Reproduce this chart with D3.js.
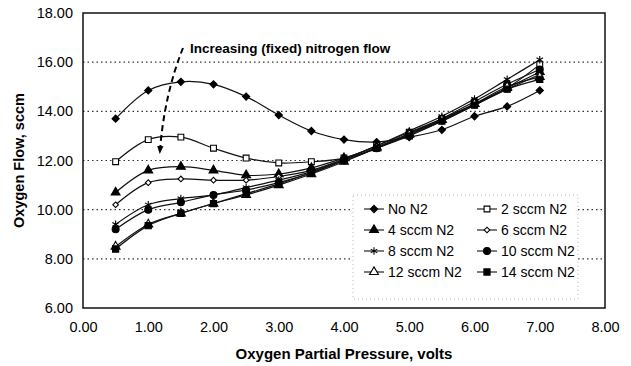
<!DOCTYPE html>
<html>
<head>
<meta charset="utf-8">
<script src="https://cdn.jsdelivr.net/npm/d3@7"></script>
<style>
  body { margin: 0; background: #fff; }
  svg { display: block; font-family: Arial, "Liberation Sans", sans-serif; }
</style>
</head>
<body>
<div id="chart"></div>
<script>
// ---------- Data ----------
const pressure = [0.5, 1.0, 1.5, 2.0, 2.5, 3.0, 3.5, 4.0, 4.5, 5.0, 5.5, 6.0, 6.5, 7.0];
const noN2   = [13.70, 14.85, 15.20, 15.10, 14.60, 13.85, 13.20, 12.85, 12.75, 12.95, 13.25, 13.80, 14.20, 14.85];
const sccm2  = [11.95, 12.85, 12.95, 12.50, 12.10, 11.90, 11.95, 12.10, 12.60, 13.15, 13.70, 14.30, 14.95, 15.90];
const sccm4  = [10.70, 11.60, 11.75, 11.60, 11.40, 11.45, 11.70, 12.10, 12.55, 13.10, 13.65, 14.30, 14.95, 15.60];
const sccm6  = [10.20, 11.10, 11.25, 11.20, 11.20, 11.35, 11.60, 12.05, 12.50, 13.05, 13.60, 14.25, 14.90, 15.50];
const sccm8  = [9.40, 10.20, 10.45, 10.60, 10.90, 11.20, 11.55, 12.05, 12.60, 13.20, 13.80, 14.50, 15.30, 16.10];
const sccm10 = [9.20, 10.00, 10.30, 10.60, 10.80, 11.10, 11.50, 12.00, 12.50, 13.10, 13.70, 14.40, 15.10, 15.70];
const sccm12 = [8.50, 9.40, 9.85, 10.25, 10.60, 11.00, 11.45, 11.95, 12.50, 13.05, 13.65, 14.30, 15.00, 15.40];
const sccm14 = [8.40, 9.35, 9.85, 10.25, 10.65, 11.05, 11.50, 12.00, 12.50, 13.00, 13.60, 14.25, 14.90, 15.30];

const seriesNames = ["No N2", "2 sccm N2", "4 sccm N2", "6 sccm N2", "8 sccm N2", "10 sccm N2", "12 sccm N2", "14 sccm N2"];
const seriesValues = [noN2, sccm2, sccm4, sccm6, sccm8, sccm10, sccm12, sccm14];
const xTicks = [0, 1, 2, 3, 4, 5, 6, 7, 8];
const yTicks = [6, 8, 10, 12, 14, 16, 18];

// marker style per series: symbol, fill, size, rotation
const markers = [
    { sym: d3.symbolSquare, fill: "#000", size: 26, rot: 45 },
    { sym: d3.symbolSquare, fill: "#fff", size: 34, rot: 0 },
    { sym: d3.symbolTriangle, fill: "#000", size: 34, rot: 0 },
    { sym: d3.symbolSquare, fill: "#fff", size: 16, rot: 45 },
    { sym: d3.symbolAsterisk, fill: "none", size: 40, rot: 0 },
    { sym: d3.symbolCircle, fill: "#000", size: 38, rot: 0 },
    { sym: d3.symbolTriangle, fill: "#fff", size: 34, rot: 0 },
    { sym: d3.symbolSquare, fill: "#000", size: 38, rot: 0 }
];

// ---------- Dimensions ----------
const W = 631, H = 366;
const plot = { left: 83, right: 605, top: 13, bottom: 308 };

const svg = d3.select("#chart").append("svg")
    .attr("width", W)
    .attr("height", H);

// ---------- Scales ----------
const x = d3.scaleLinear().domain([0, 8]).range([plot.left, plot.right]);
const y = d3.scaleLinear().domain([6, 18]).range([plot.bottom, plot.top]);

// ---------- Gridlines ----------
svg.append("g")
    .selectAll("line")
    .data(yTicks.filter(d => d > 6 && d < 18))
    .join("line")
    .attr("x1", plot.left).attr("x2", plot.right)
    .attr("y1", d => y(d)).attr("y2", d => y(d))
    .attr("stroke", "#333")
    .attr("stroke-width", 1.2)
    .attr("stroke-dasharray", "1.5,3");

// ---------- Axes ----------
const xAxis = svg.append("g")
    .attr("transform", `translate(0,${plot.bottom})`)
    .call(d3.axisBottom(x).tickValues(xTicks).tickSize(0).tickPadding(14).tickFormat(d3.format(".2f")));
const yAxis = svg.append("g")
    .attr("transform", `translate(${plot.left},0)`)
    .call(d3.axisLeft(y).tickValues(yTicks).tickSize(0).tickPadding(10).tickFormat(d3.format(".2f")));

[xAxis, yAxis].forEach(a => {
    a.select(".domain").remove();
    a.selectAll("text")
        .attr("fill", "#000")
        .style("font-size", "14.5px")
        .style("font-family", "Arial, 'Liberation Sans', sans-serif");
});

// plot frame
svg.append("rect")
    .attr("x", plot.left).attr("y", plot.top)
    .attr("width", plot.right - plot.left)
    .attr("height", plot.bottom - plot.top)
    .attr("fill", "none")
    .attr("stroke", "#111")
    .attr("stroke-width", 1.5);

// axis titles
svg.append("text")
    .attr("x", (plot.left + plot.right) / 2)
    .attr("y", 359)
    .attr("text-anchor", "middle")
    .style("font-size", "15px")
    .style("font-weight", "bold")
    .text("Oxygen Partial Pressure, volts");

svg.append("text")
    .attr("transform", `translate(24,${(plot.top + plot.bottom) / 2}) rotate(-90)`)
    .attr("text-anchor", "middle")
    .style("font-size", "14.5px")
    .style("font-weight", "bold")
    .text("Oxygen Flow, sccm");

// ---------- Lines ----------
const line = d3.line()
    .x((d, i) => x(pressure[i]))
    .y(d => y(d))
    .curve(d3.curveCatmullRom.alpha(0.5));

const symbol = m => d3.symbol().type(m.sym).size(m.size)();

seriesValues.forEach((vals, s) => {
    const g = svg.append("g");
    g.append("path")
        .attr("d", line(vals))
        .attr("fill", "none")
        .attr("stroke", "#111")
        .attr("stroke-width", 1.2);
    g.selectAll("path.pt")
        .data(vals)
        .join("path")
        .attr("class", "pt")
        .attr("transform", (d, i) => `translate(${x(pressure[i])},${y(d)}) rotate(${markers[s].rot})`)
        .attr("d", symbol(markers[s]))
        .attr("fill", markers[s].fill)
        .attr("stroke", "#000")
        .attr("stroke-width", 1.1);
});

// ---------- Legend ----------
const legend = svg.append("g");
legend.append("rect")
    .attr("x", 353).attr("y", 195)
    .attr("width", 225).attr("height", 104)
    .attr("fill", "#fff")
    .attr("stroke", "#aaa")
    .attr("stroke-width", 0.8)
    .attr("stroke-dasharray", "1,3");

seriesNames.forEach((name, i) => {
    const col = i % 2, row = Math.floor(i / 2);
    const lx = col === 0 ? 364 : 477;
    const ly = 209 + row * 21;
    const item = legend.append("g").attr("transform", `translate(${lx},${ly})`);
    item.append("line")
        .attr("x1", 0).attr("x2", 20)
        .attr("stroke", "#111").attr("stroke-width", 1.1);
    item.append("path")
        .attr("transform", `translate(10,0) rotate(${markers[i].rot})`)
        .attr("d", symbol(markers[i]))
        .attr("fill", markers[i].fill)
        .attr("stroke", "#000")
        .attr("stroke-width", 1.1);
    item.append("text")
        .attr("x", 24).attr("y", 5)
        .style("font-size", "14px")
        .text(name);
});

// ---------- Annotation ----------
svg.append("defs").append("marker")
    .attr("id", "arrow")
    .attr("viewBox", "0 0 10 10")
    .attr("refX", 5).attr("refY", 5)
    .attr("markerWidth", 4).attr("markerHeight", 4)
    .attr("orient", "auto")
    .append("path")
    .attr("d", "M0,1 L10,5 L0,9 Z")
    .attr("fill", "#000");

svg.append("path")
    .attr("d", "M183,48 C171,78 163,112 160,150")
    .attr("fill", "none")
    .attr("stroke", "#000")
    .attr("stroke-width", 2)
    .attr("stroke-dasharray", "6,4")
    .attr("marker-end", "url(#arrow)");

svg.append("text")
    .attr("x", 190).attr("y", 53)
    .style("font-size", "13.5px")
    .style("font-weight", "bold")
    .text("Increasing (fixed) nitrogen flow");
</script>
</body>
</html>
